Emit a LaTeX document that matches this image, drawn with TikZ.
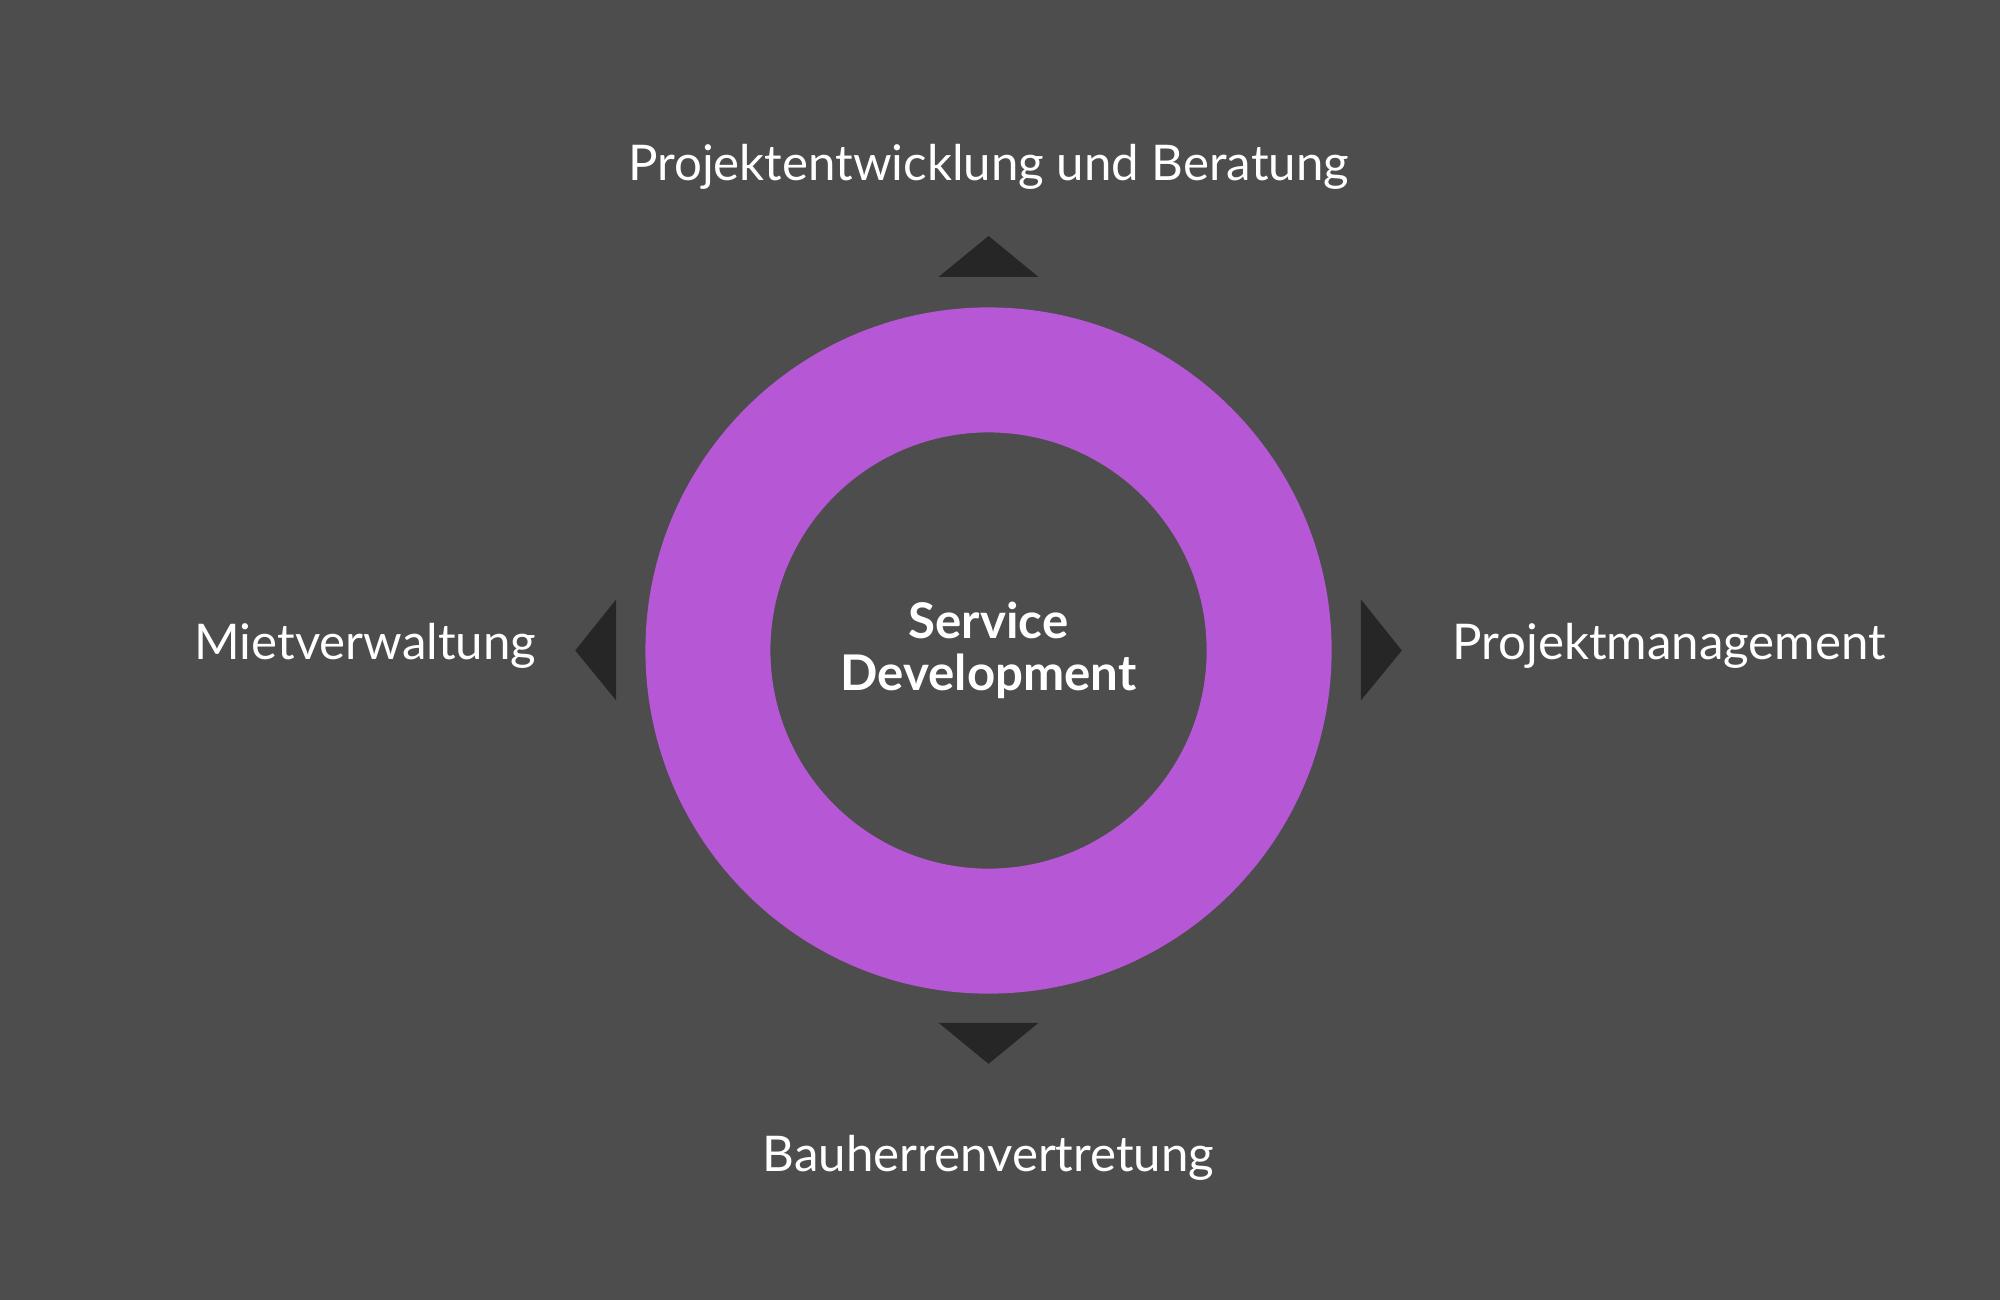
\documentclass[tikz,border=0pt]{standalone}
\usepackage{fontspec}
\setmainfont{Lato}
\definecolor{bgGrey}{HTML}{4D4D4D}
\definecolor{ringPurple}{HTML}{B657D5}
\definecolor{tipDark}{HTML}{262626}
\tikzset{
  lbl/.style={text=white,font=\fontsize{14}{16}\selectfont},
  tip/.style={fill=tipDark,draw=none}
}
\begin{document}
\begin{tikzpicture}[x=0.01276cm,y=-0.01276cm]
        \fill[bgGrey] (0,0) rectangle (1568,1019);
        \useasboundingbox (0,0) rectangle (1568,1019);
        \coordinate (C) at (775,510);
        \fill[ringPurple,even odd rule] (C) circle (269) (C) circle (171);

        % arrow tips
        \fill[tip] (736,217) -- (775,185) -- (814,217) -- cycle;
        \fill[tip] (736,802) -- (775,834) -- (814,802) -- cycle;
        \fill[tip] (483,470) -- (451,510) -- (483,549) -- cycle;
        \fill[tip] (1067,470) -- (1099,510) -- (1067,549) -- cycle;

        \node[lbl,align=center,font=\fontsize{14}{15}\selectfont\bfseries] (S) at (C) {Service\\Development};
        \node[lbl] (T) at (775,131) {Projektentwicklung und Beratung};
        \node[lbl] (B) at (775,908) {Bauherrenvertretung};
        \node[lbl,anchor=east] (L) at (430,506) {Mietverwaltung};
        \node[lbl,anchor=west] (R) at (1129,506) {Projektmanagement};
\end{tikzpicture}
\end{document}
